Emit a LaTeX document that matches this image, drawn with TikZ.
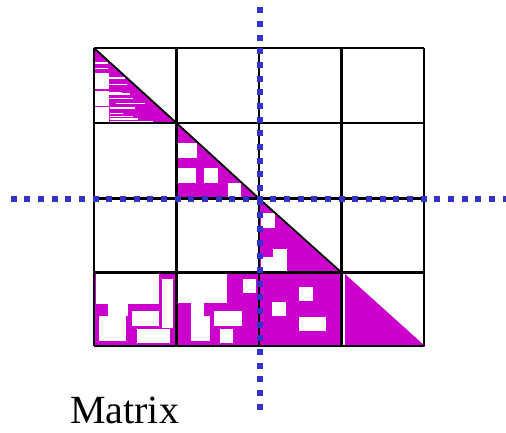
\documentclass[tikz,border=0pt]{standalone}
\usepackage{fontspec}
\setmainfont{Liberation Serif}
\definecolor{blockpink}{RGB}{204,0,204}
\definecolor{cutblue}{RGB}{51,51,204}

\begin{document}
\begin{tikzpicture}[
			x=1pt, y=-1pt,
			block/.style={fill=blockpink},
			hole/.style={fill=white},
			stripe/.style={draw=white, line width=1.1pt},
			cell/.style={draw=black, line width=2.2pt},
			diag/.style={draw=black, line width=1.8pt},
			cut/.style={draw=cutblue, line width=6pt, dash pattern=on 6pt off 7.67pt},
			label/.style={font=\fontsize{40}{48}\selectfont, inner sep=0pt}
			]
			\useasboundingbox (0,0) rectangle (506,432);
			
			% diagonal blocks
			\fill[block] (94,48) -- (176.5,123) -- (94,123) -- cycle;
			\fill[block] (176.5,123) -- (259,198.5) -- (176.5,198.5) -- cycle;
			\fill[block] (259,198.5) -- (341.5,272.5) -- (259,272.5) -- cycle;
			\fill[block] (345,274) -- (425.5,346.5) -- (345,346.5) -- cycle;
			\fill[block] (94,272.5) rectangle (341.5,346);
			
			% holes, first block
			\foreach \ya/\yb in {73.3/89, 90.7/106.3, 107.3/122}
				\fill[hole] (94,\ya) rectangle (109,\yb);
			\foreach \y/\xa/\xb in {63/94/108, 68.7/94/108, 78/109/125, 84.7/109/126.7, 92.7/109/121.7, 94/109/130,
				98.3/109/133.3, 103.3/116/145, 108/110/135, 113.3/110/123, 116.7/110/133, 119/110/138, 121.3/110/153}
				\draw[stripe] (\xa,\y) -- (\xb,\y);
			
			% holes, second and third block
			\fill[hole] (178,142.7) rectangle (197,157.7);
			\fill[hole] (178,168.3) rectangle (196,183.3);
			\fill[hole] (203.7,168.3) rectangle (217.7,183.3);
			\fill[hole] (228,183.3) rectangle (241.3,198.5);
			\fill[hole] (261,213) rectangle (275,227.7);
			\fill[hole] (272.7,249) rectangle (286.7,272);
			\fill[hole] (261,256.7) rectangle (272.7,272);
			
			% holes, bottom row
			\fill[hole] (96,274) rectangle (159,303.5);
			\fill[hole] (107.7,303) rectangle (127.5,316.2);
			\fill[hole] (99,316) rectangle (125.7,340.5);
			\fill[hole] (162.3,279.3) rectangle (173,328);
			\fill[hole] (132,311) rectangle (159,326);
			\fill[hole] (137,329) rectangle (170,343);
			\fill[hole] (178,274) rectangle (227,303);
			\fill[hole] (191,303) rectangle (204,340.5);
			\fill[hole] (204,316.2) rectangle (210,340.5);
			\fill[hole] (243,279.3) rectangle (256,293);
			\fill[hole] (214,311) rectangle (242,326);
			\fill[hole] (220,329) rectangle (233,343);
			\fill[hole] (299,287) rectangle (312.7,301.3);
			\fill[hole] (272.3,302.3) rectangle (286,316.3);
			\fill[hole] (299,317.3) rectangle (326,331.3);
			
			% grid
			\foreach \x in {94,176.5,259,341.5,424}
				\draw[cell] (\x,48) -- (\x,346);
			\foreach \y in {48,123,198.5,272.5,346}
				\draw[cell] (94,\y) -- (424,\y);
			\draw[diag] (94,48) -- (176.5,123) -- (259,198.5) -- (341.5,272.5);
			
			% cut lines
			\draw[cut] (260,7.3) -- (260,412);
			\draw[cut] (10.7,199) -- (510,199);
			
			\node[label, anchor=base west] (title) at (70,423) {Matrix};
		\end{tikzpicture}
\end{document}
